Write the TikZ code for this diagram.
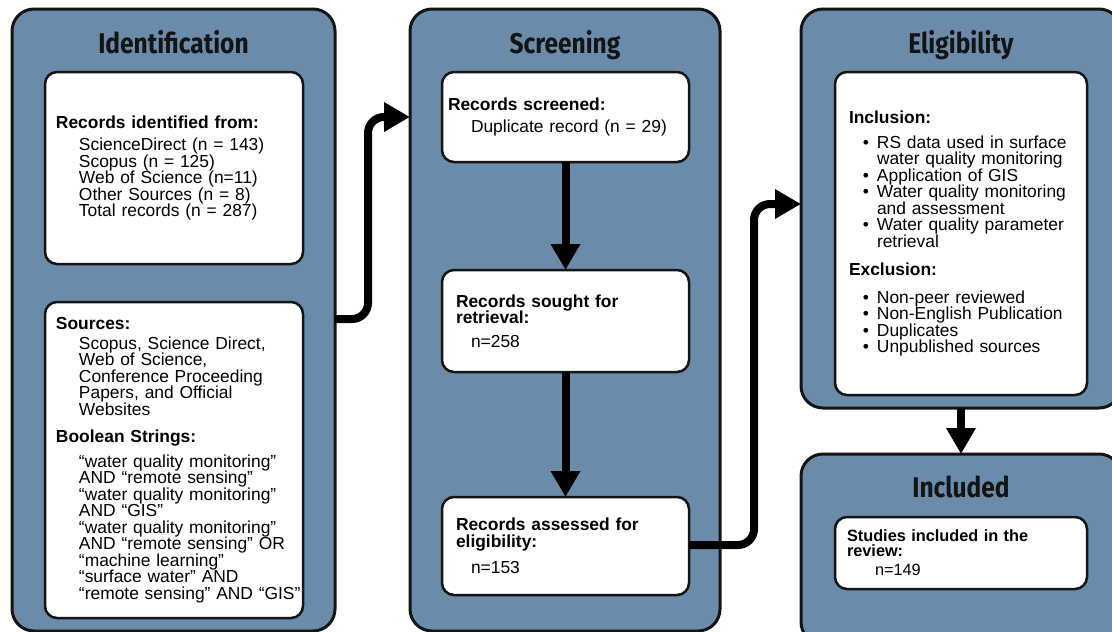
\documentclass[tikz,border=0pt]{standalone}
\usepackage{fontspec}
\setmainfont{Liberation Sans}
\newfontfamily\headfont[FakeStretch=0.86]{Fira Sans}
\usetikzlibrary{arrows.meta}
\definecolor{panelblue}{HTML}{6A8CAA}
\definecolor{edge}{HTML}{141414}
\newcommand{\ind}[1][23pt]{\hspace*{#1}}
\newcommand{\bul}{\hspace*{28pt}\llap{\textbullet\hspace{8pt}}}
\begin{document}
\begin{tikzpicture}[x=1pt,y=-1pt,
    panel/.style={draw=edge,line width=3pt,fill=panelblue,outer sep=0pt,
        rounded corners=22pt,anchor=north west,inner sep=0pt},
    stage/.style={anchor=base,text=edge,
        font={\headfont\bfseries\fontsize{28.5}{28.5}\selectfont}},
    inbox/.style={draw=edge,line width=2.5pt,fill=white,outer sep=0pt,
        rounded corners=12pt,anchor=north west,align=left,inner ysep=0pt,
        font={\fontsize{17.4}{16.5}\selectfont}},
    flow/.style={line width=8pt,draw=black,rounded corners=16pt,
        -{Triangle[width=28pt,length=26pt]}},
    ]
    \useasboundingbox (0,0) rectangle (1112,632);

    % Stage panels
    \node[panel,minimum width=323pt,minimum height=622pt] (idPanel) at (12,9) {};
    \node[panel,minimum width=310pt,minimum height=622pt] (scrPanel) at (410,9) {};
    \node[panel,minimum width=320pt,minimum height=399pt] (eliPanel) at (801,9) {};
    \node[panel,minimum width=320pt,minimum height=190pt] (incPanel) at (801,454) {};

    % Stage titles
    \node[stage] (idHead) at (idPanel.north |- 0,53) {Identification};
    \node[stage] (scrHead) at (scrPanel.north |- 0,53) {Screening};
    \node[stage] (eliHead) at (eliPanel.north |- 0,53) {Eligibility};
    \node[stage] (incHead) at (incPanel.north |- 0,497) {Included};

    % Identification
    \node[inbox,minimum width=258pt,minimum height=192pt,inner xsep=11pt,
        text width=236pt] (recBox) at (45,72) {%
        \textbf{Records identified from:}\\[5.5pt]
        \ind ScienceDirect (n = 143)\\
        \ind Scopus (n = 125)\\
        \ind Web of Science (n=11)\\
        \ind Other Sources (n = 8)\\
        \ind Total records (n = 287)};
    \node[inbox,minimum width=258pt,minimum height=316pt,inner xsep=11pt,
        text width=236pt] (srcBox) at (45,302) {%
        \textbf{Sources:}\\[3.5pt]
        \ind Scopus, Science Direct,\\
        \ind Web of Science,\\
        \ind Conference Proceeding\\
        \ind Papers, and Official\\
        \ind Websites\\[10.5pt]
        \textbf{Boolean Strings:}\\[8.5pt]
        \ind “water quality monitoring”\\
        \ind AND “remote sensing”\\
        \ind “water quality monitoring”\\
        \ind AND “GIS”\\
        \ind “water quality monitoring”\\
        \ind AND “remote sensing” OR\\
        \ind “machine learning”\\
        \ind “surface water” AND\\
        \ind\mbox{“remote sensing” AND “GIS”}};

    % Screening
    \node[inbox,minimum width=247pt,minimum height=90pt,inner xsep=6pt,
        text width=235pt] (scrBox) at (442,72) {%
        \textbf{Records screened:}\\[5.5pt]
        \ind Duplicate record (n = 29)};
    \node[inbox,minimum width=247pt,minimum height=102pt,inner xsep=14pt,
        text width=219pt] (sghtBox) at (442,270) {%
        \textbf{Records sought for}\\[-0.5pt]
        \textbf{retrieval:}\\[7.5pt]
        \ind[15pt]n=258};
    \node[inbox,minimum width=247pt,minimum height=98pt,inner xsep=14pt,
        text width=219pt] (assBox) at (442,497) {%
        \textbf{Records assessed for}\\
        \textbf{eligibility:}\\[9.5pt]
        \ind[15pt]n=153};

    % Eligibility
    \node[inbox,minimum width=252pt,minimum height=323pt,inner xsep=14pt,
        text width=224pt] (eliBox) at (835,72) {%
        \textbf{Inclusion:}\\[8.5pt]
        \bul RS data used in surface\\
        \ind[28pt]water quality monitoring\\
        \bul Application of GIS\\
        \bul Water quality monitoring\\
        \ind[28pt]and assessment\\
        \bul Water quality parameter\\
        \ind[28pt]retrieval\\[11.5pt]
        \textbf{Exclusion:}\\[11.5pt]
        \bul Non-peer reviewed\\
        \bul Non-English Publication\\
        \bul Duplicates\\
        \bul Unpublished sources};

    % Included
    \node[inbox,minimum width=252pt,minimum height=72pt,inner xsep=12pt,
        text width=228pt,font={\fontsize{16.3}{15}\selectfont}] (incBox) at (835,517) {%
        \textbf{Studies included in the}\\
        \textbf{review:}\\[4pt]
        \ind[28pt]n=149};

    % Flow arrows
    \draw[flow] (idPanel.east |- 0,319) -| (368,117) -- (scrPanel.west |- 0,117);
    \draw[flow] (scrBox.south) -- (sghtBox.north);
    \draw[flow] (sghtBox.south) -- (assBox.north);
    \draw[flow] (assBox.east |- 0,545) -| (754,204) -- (eliPanel.west |- 0,204);
    \draw[flow] (eliPanel.south) -- (incPanel.north);
\end{tikzpicture}
\end{document}
